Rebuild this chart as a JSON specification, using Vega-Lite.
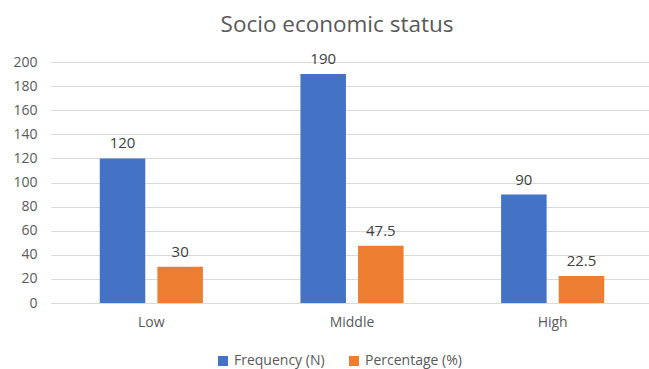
{
  "$schema": "https://vega.github.io/schema/vega-lite/v6.json",
  "width": 598,
  "height": 241,
  "autosize": "none",
  "padding": {"left": 51, "top": 62, "right": 0, "bottom": 66},
  "background": "white",
  "title": {
    "text": "Socio economic status",
    "fontSize": 22.5,
    "fontWeight": "normal",
    "color": "#595959",
    "font": "Open Sans",
    "anchor": "middle",
    "dx": -13,
    "offset": 16
  },
  "config": {
    "font": "Open Sans",
    "view": {"stroke": null}
  },
  "data": {
    "values": [
      {"status": "Low", "series": "Frequency (N)", "value": 120, "label": "120"},
      {"status": "Low", "series": "Percentage (%)", "value": 30, "label": "30"},
      {"status": "Middle", "series": "Frequency (N)", "value": 190, "label": "190"},
      {"status": "Middle", "series": "Percentage (%)", "value": 47.5, "label": "47.5"},
      {"status": "High", "series": "Frequency (N)", "value": 90, "label": "90"},
      {"status": "High", "series": "Percentage (%)", "value": 22.5, "label": "22.5"}
    ]
  },
  "encoding": {
    "x": {
      "field": "status",
      "type": "nominal",
      "sort": ["Low", "Middle", "High"],
      "scale": {"paddingInner": 0.486, "paddingOuter": 0.243, "range": [0, 602]},
      "axis": {
        "title": null,
        "labelAngle": 0,
        "labelFontSize": 14,
        "labelColor": "#595959",
        "labelPadding": 12,
        "ticks": false,
        "domainColor": "#d9d9d9",
        "domainWidth": 1
      }
    },
    "xOffset": {
      "field": "series",
      "type": "nominal",
      "scale": {"paddingInner": 0.21, "paddingOuter": 0}
    },
    "y": {
      "field": "value",
      "type": "quantitative",
      "scale": {"domain": [0, 200], "nice": false},
      "axis": {
        "title": null,
        "values": [0, 20, 40, 60, 80, 100, 120, 140, 160, 180, 200],
        "labelFontSize": 14,
        "labelColor": "#595959",
        "labelPadding": 14,
        "ticks": false,
        "domain": false,
        "gridColor": "#d9d9d9",
        "gridWidth": 1
      }
    }
  },
  "layer": [
    {
      "mark": {"type": "bar"},
      "encoding": {
        "color": {
          "field": "series",
          "type": "nominal",
          "scale": {"domain": ["Frequency (N)", "Percentage (%)"], "range": ["#4472C4", "#ED7D31"]},
          "legend": {
            "title": null,
            "orient": "none",
            "direction": "horizontal",
            "legendX": 165,
            "legendY": 292,
            "symbolType": "square",
            "symbolSize": 100,
            "symbolStrokeWidth": 0,
            "labelFontSize": 14,
            "labelColor": "#595959",
            "labelOffset": 4,
            "columnPadding": 22
          }
        }
      }
    },
    {
      "mark": {"type": "text", "baseline": "alphabetic", "dy": -10, "fontSize": 15, "color": "#404040"},
      "encoding": {
        "text": {"field": "label", "type": "nominal"}
      }
    }
  ]
}
